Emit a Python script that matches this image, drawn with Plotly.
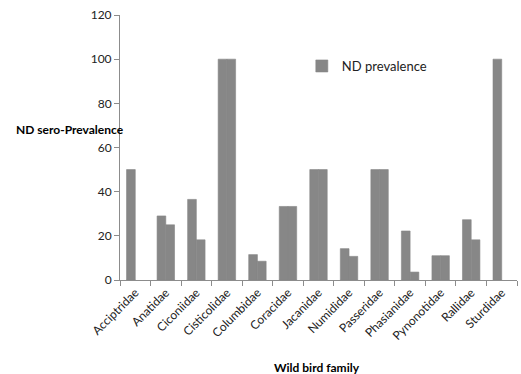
import plotly.graph_objects as go

families = ["Acciptridae", "Anatidae", "Ciconiidae", "Cisticolidae", "Columbidae",
            "Coracidae", "Jacanidae", "Numididae", "Passeridae", "Phasianidae",
            "Pynonotidae", "Rallidae", "Sturdidae"]
prev_a = [50, 29, 36.5, 100, 11.5, 33.3, 50, 14.2, 50, 22.2, 11, 27.3, 100]
prev_b = [0, 25, 18.2, 100, 8.5, 33.3, 50, 10.7, 50, 3.6, 11, 18.2, 0]
y_ticks = [0, 20, 40, 60, 80, 100, 120]

bar_color = "#878787"
axis_color = "#8c8c8c"
font_family = "Lato, 'Open Sans', sans-serif"


def edge_widths(vals):
    return [0.6 if v > 0 else 0 for v in vals]


fig = go.Figure()
fig.add_trace(go.Bar(x=families, y=prev_a, name="ND prevalence",
                     marker=dict(color=bar_color,
                                 line=dict(width=edge_widths(prev_a), color=bar_color))))
fig.add_trace(go.Bar(x=families, y=prev_b, name="ND prevalence", showlegend=False,
                     marker=dict(color=bar_color,
                                 line=dict(width=edge_widths(prev_b), color=bar_color))))

fig.update_layout(
    width=521, height=374,
    margin=dict(l=120, r=4, t=15, b=94),
    barmode="group", bargap=0.4286, bargroupgap=0,
    plot_bgcolor="white", paper_bgcolor="white",
    font=dict(family=font_family, size=12, color="#000000"),
    showlegend=True,
    legend=dict(x=0.458, y=0.8075, xanchor="left", yanchor="middle",
                bgcolor="rgba(0,0,0,0)", font=dict(size=13, color="#222222"),
                itemwidth=30),
    xaxis=dict(type="category", tickangle=-45, showline=True, linecolor=axis_color,
               linewidth=1, ticks="outside", tickson="boundaries", ticklen=5,
               tickcolor=axis_color, showgrid=False, range=[-0.5, 12.5],
               tickfont=dict(size=12, color="#222222")),
    yaxis=dict(range=[0, 120], tickvals=y_ticks, showline=True, linecolor=axis_color,
               linewidth=1, ticks="outside", ticklen=5, tickcolor=axis_color,
               showgrid=False, zeroline=False, tickfont=dict(size=12, color="#222222")),
    annotations=[
        dict(text="<b>ND sero-Prevalence</b>", xref="paper", yref="y", x=0.015, y=68,
             xanchor="right", yanchor="middle", showarrow=False,
             font=dict(size=12, color="#000000")),
        dict(text="<b>Wild bird family</b>", xref="paper", yref="paper",
             x=(316.7 - 120) / 397.0, y=-0.33, xanchor="center", yanchor="middle",
             showarrow=False, font=dict(size=12, color="#000000")),
    ],
)

fig.write_html("out.html")
